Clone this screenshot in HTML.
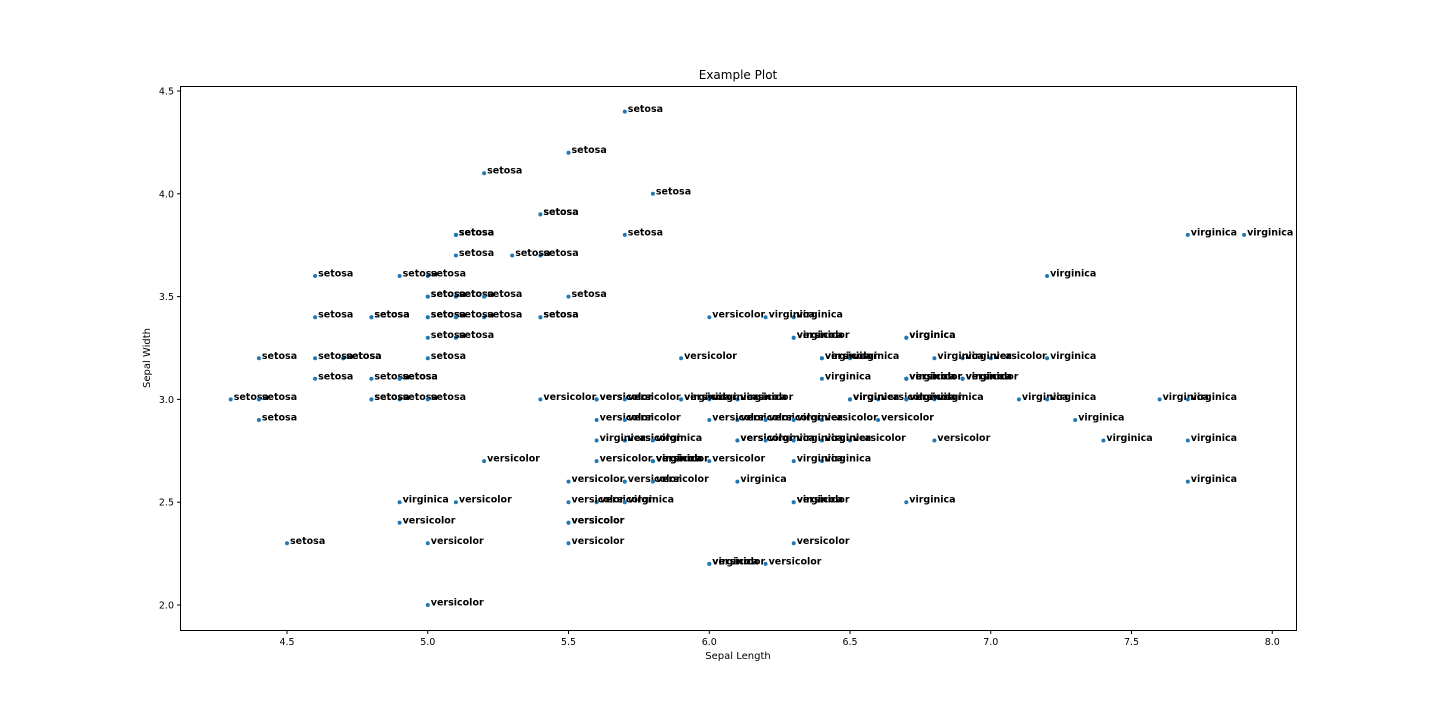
<!DOCTYPE html>
<html><head><meta charset="utf-8"><style>
html,body{margin:0;padding:0;background:#fff;width:1440px;height:720px;overflow:hidden}
svg text{font-family:"DejaVu Sans","Liberation Sans",sans-serif}
</style></head><body>
<svg id="s" width="1440" height="720" xmlns="http://www.w3.org/2000/svg">
<rect x="0" y="0" width="1440" height="720" fill="#fff"/>
<text x="738" y="79" font-size="12" text-anchor="middle">Example Plot</text>
<text x="738" y="659" font-size="10" text-anchor="middle">Sepal Length</text>
<text x="150" y="358" font-size="10" text-anchor="middle" transform="rotate(-90 150 358)">Sepal Width</text>
<g id="ticks" font-size="9.5"></g>
<g id="pts"></g>
<rect x="180.5" y="86.5" width="1116" height="544" fill="none" stroke="#000" stroke-width="1"/>
</svg>
<script>
var S='setosa',V='versicolor',G='virginica';
var d={};
d[S]=[5.1,3.5,4.9,3.0,4.7,3.2,4.6,3.1,5.0,3.6,5.4,3.9,4.6,3.4,5.0,3.4,4.4,2.9,4.9,3.1,5.4,3.7,4.8,3.4,4.8,3.0,4.3,3.0,5.8,4.0,5.7,4.4,5.4,3.9,5.1,3.5,5.7,3.8,5.1,3.8,5.4,3.4,5.1,3.7,4.6,3.6,5.1,3.3,4.8,3.4,5.0,3.0,5.0,3.4,5.2,3.5,5.2,3.4,4.7,3.2,4.8,3.1,5.4,3.4,5.2,4.1,5.5,4.2,4.9,3.1,5.0,3.2,5.5,3.5,4.9,3.6,4.4,3.0,5.1,3.4,5.0,3.5,4.5,2.3,4.4,3.2,5.0,3.5,5.1,3.8,4.8,3.0,5.1,3.8,4.6,3.2,5.3,3.7,5.0,3.3];
d[V]=[7.0,3.2,6.4,3.2,6.9,3.1,5.5,2.3,6.5,2.8,5.7,2.8,6.3,3.3,4.9,2.4,6.6,2.9,5.2,2.7,5.0,2.0,5.9,3.0,6.0,2.2,6.1,2.9,5.6,2.9,6.7,3.1,5.6,3.0,5.8,2.7,6.2,2.2,5.6,2.5,5.9,3.2,6.1,2.8,6.3,2.5,6.1,2.8,6.4,2.9,6.6,3.0,6.8,2.8,6.7,3.0,6.0,2.9,5.7,2.6,5.5,2.4,5.5,2.4,5.8,2.7,6.0,2.7,5.4,3.0,6.0,3.4,6.7,3.1,6.3,2.3,5.6,3.0,5.5,2.5,5.5,2.6,6.1,3.0,5.8,2.6,5.0,2.3,5.6,2.7,5.7,3.0,5.7,2.9,6.2,2.9,5.1,2.5,5.7,2.8];
d[G]=[6.3,3.3,5.8,2.7,7.1,3.0,6.3,2.9,6.5,3.0,7.6,3.0,4.9,2.5,7.3,2.9,6.7,2.5,7.2,3.6,6.5,3.2,6.4,2.7,6.8,3.0,5.7,2.5,5.8,2.8,6.4,3.2,6.5,3.0,7.7,3.8,7.7,2.6,6.0,2.2,6.9,3.2,5.6,2.8,7.7,2.8,6.3,2.7,6.7,3.3,7.2,3.2,6.2,2.8,6.1,3.0,6.4,2.8,7.2,3.0,7.4,2.8,7.9,3.8,6.4,2.8,6.3,2.8,6.1,2.6,7.7,3.0,6.3,3.4,6.4,3.1,6.0,3.0,6.9,3.1,6.7,3.1,6.9,3.1,5.8,2.7,6.8,3.2,6.7,3.3,6.7,3.0,6.3,2.5,6.5,3.0,6.2,3.4,5.9,3.0];
function X(v){return 287+(v-4.5)*281.5}
function Y(v){return 605-(v-2)*205.6}
var ns='http://www.w3.org/2000/svg',h='';
[S,V,G].forEach(function(k){var a=d[k];for(var i=0;i<a.length;i+=2){var x=X(a[i]),y=Y(a[i+1]);
h+='<circle cx="'+x.toFixed(1)+'" cy="'+y.toFixed(1)+'" r="2" fill="#1f77b4"/>';
h+='<text x="'+(x+3).toFixed(1)+'" y="'+(y+0.5).toFixed(1)+'" font-size="9.5" font-weight="bold">'+k+'</text>';}});
document.getElementById('pts').innerHTML=h;
var t='';
[4.5,5.0,5.5,6.0,6.5,7.0,7.5,8.0].forEach(function(v){var x=X(v);t+='<line x1="'+x+'" y1="630.5" x2="'+x+'" y2="634" stroke="#000"/><text x="'+x+'" y="645" text-anchor="middle">'+v.toFixed(1)+'</text>';});
[2.0,2.5,3.0,3.5,4.0,4.5].forEach(function(v){var y=Y(v);t+='<line x1="177" y1="'+y+'" x2="180.5" y2="'+y+'" stroke="#000"/><text x="174" y="'+(y+3.5)+'" text-anchor="end">'+v.toFixed(1)+'</text>';});
document.getElementById('ticks').innerHTML=t;
</script>
</body></html>
